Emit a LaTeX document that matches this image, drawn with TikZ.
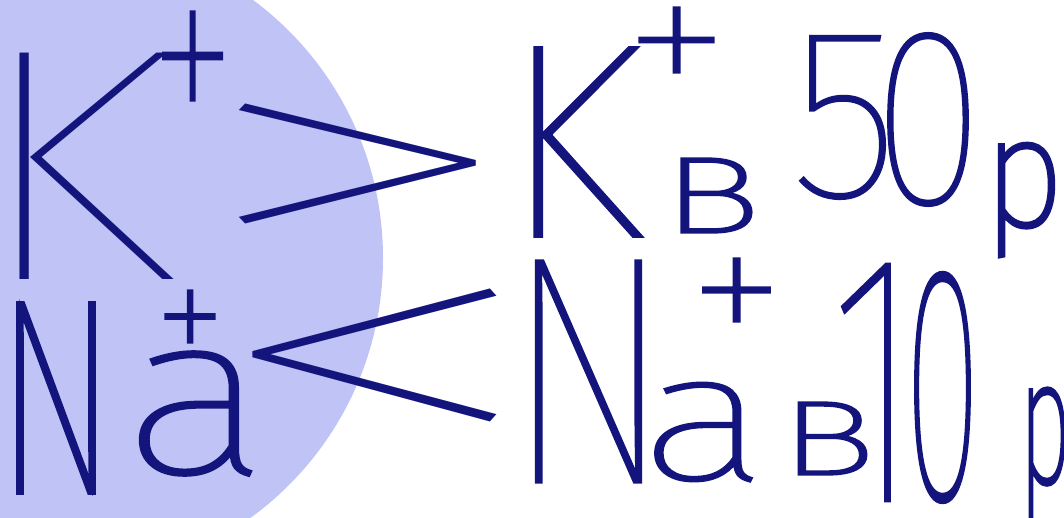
\documentclass[tikz,border=0pt]{standalone}
\usepackage{fontspec}
\usepackage{graphicx}
\newfontfamily\hand{Fira Sans Thin}
\definecolor{cellfill}{RGB}{192,195,246}
\definecolor{ink}{RGB}{20,20,125}
\newbox\glyphraw
\newbox\glyphtrim
\newdimen\glyL \newdimen\glyR \newdimen\glyT \newdimen\glyD
% \glyphbox[extra stroke]{ink width}{ink height}{character}:
% the glyph trimmed to its ink and scaled
\newcommand\glyphbox[4][0]{{%
  \ifdim#1pt=0pt \hand\else\fontspec{Fira Sans Thin}[FakeBold=#1]\fi
  \glyL=\XeTeXglyphbounds1 \XeTeXcharglyph`#4\relax
  \glyT=\XeTeXglyphbounds2 \XeTeXcharglyph`#4\relax
  \glyR=\XeTeXglyphbounds3 \XeTeXcharglyph`#4\relax
  \glyD=\XeTeXglyphbounds4 \XeTeXcharglyph`#4\relax
  \setbox\glyphraw=\hbox{#4}%
  \setbox\glyphtrim=\hbox{\kern-\glyL\raise\glyD\box\glyphraw\kern-\glyR}%
  \ht\glyphtrim=\dimexpr\glyT+\glyD\relax
  \dp\glyphtrim=0pt
  \resizebox*{#2pt}{#3pt}{\box\glyphtrim}}}
\begin{document}
\begin{tikzpicture}[x=1pt,y=-1pt,
  g/.style={inner sep=0pt, outer sep=0pt, text=ink, anchor=center}]
\path[use as bounding box] (0,0) rectangle (1064,518);
\fill[white] (0,0) rectangle (1064,518);
\begin{scope}
  \clip (0,0) rectangle (1064,518);
  \fill[cellfill] (62,258) circle[radius=321pt];
\end{scope}
% left: inside the cell
\node[g] (kin)     at (97,166)     {\glyphbox{154}{226}{K}};
\node[g] (kinp)    at (192.5,56)   {\glyphbox[1.1]{59}{88}{+}};
\node[g] (nain)    at (56,398)     {\glyphbox[2]{76}{188}{N}};
\node[g] (ain)     at (195.5,413.5){\glyphbox[1.5]{109}{123}{a}};
\node[g] (nainp)   at (190,316.5)  {\glyphbox[2.2]{48}{51}{+}};
% comparison signs
\node[g] (gt)      at (357.5,164)  {\glyphbox{237}{120}{>}};
\node[g] (lt)      at (375,355.5)  {\glyphbox{244}{133}{<}};
% right top: K+ в 50 р
\node[g] (kout)    at (588,142)    {\glyphbox[1.2]{106}{188}{K}};
\node[g] (koutp)   at (676.5,40)   {\glyphbox[1.5]{73}{64}{+}};
\node[g] (kv)      at (716.5,195.5){\glyphbox[3]{67}{73}{В}};
\node[g] (five)    at (842.5,117.5){\glyphbox[0.8]{85}{163}{5}};
\node[g] (zeroa)   at (928,119.5)  {\glyphbox[0.8]{80}{173}{0}};
\node[g] (pa)      at (1026.5,200) {\glyphbox[3]{53}{112}{р}};
% right bottom: Na+ в 10 р
\node[g] (naout)   at (588.5,371.5){\glyphbox[0.8]{105}{221}{N}};
\node[g] (aout)    at (703.5,432)  {\glyphbox[1.5]{95}{98}{a}};
\node[g] (naoutp)  at (736.5,290)  {\glyphbox[1.8]{65}{62}{+}};
\node[g] (nv)      at (832.5,438.5){\glyphbox[3]{65}{71}{В}};
\node[g] (one)     at (866,382.5)  {\glyphbox[0.8]{48}{237}{1}};
\node[g] (zerob)   at (942.5,387.5){\glyphbox[1.3]{55}{229}{0}};
\node[g] (pb)      at (1047,453)   {\glyphbox[3]{34}{128}{р}};
\end{tikzpicture}
\end{document}
